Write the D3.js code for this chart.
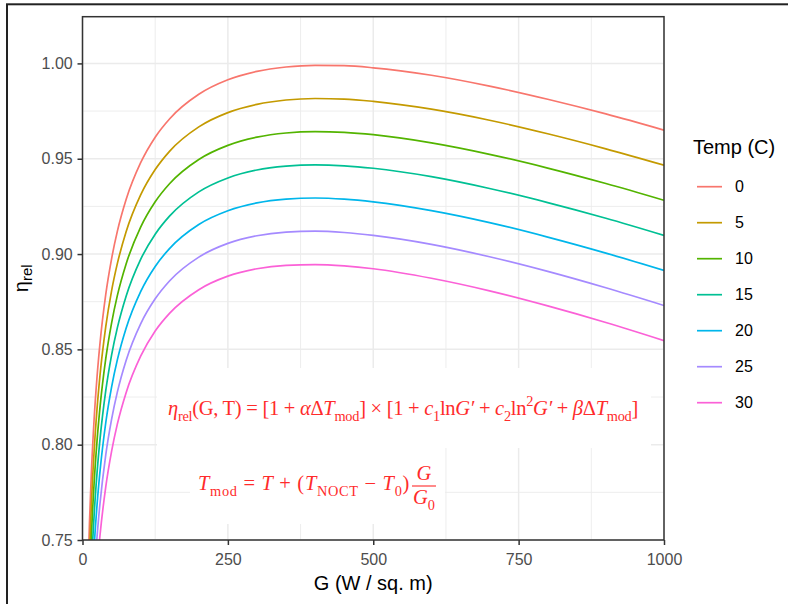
<!DOCTYPE html>
<html><head><meta charset="utf-8">
<script src="https://cdn.jsdelivr.net/npm/d3@7"></script>
<style>body{margin:0;background:#fff} svg{display:block} text{white-space:pre}</style>
</head><body>
<svg id="c" width="788" height="604"></svg>
<script>
// ---------- data ----------
const G = [10,12,15,20,25,30,40,50,60,75,100,125,150,200,250,300,350,400,450,500,600,700,800,900,1000];
const temps = ["0","5","10","15","20","25","30"];
const eta_T0  = [0.7387,0.7592,0.7836,0.8135,0.8356,0.8529,0.8788,0.8975,0.9120,0.9286,0.9479,0.9613,0.9710,0.9838,0.9914,0.9958,0.9981,0.9990,0.9988,0.9977,0.9938,0.9881,0.9812,0.9735,0.9650];
const eta_T5  = [0.7219,0.7424,0.7668,0.7967,0.8188,0.8361,0.8619,0.8807,0.8951,0.9117,0.9310,0.9443,0.9540,0.9667,0.9742,0.9785,0.9808,0.9816,0.9813,0.9801,0.9760,0.9702,0.9631,0.9552,0.9466];
const eta_T10 = [0.7052,0.7257,0.7500,0.7799,0.8020,0.8193,0.8451,0.8638,0.8783,0.8948,0.9141,0.9274,0.9370,0.9496,0.9570,0.9613,0.9635,0.9642,0.9638,0.9626,0.9583,0.9523,0.9451,0.9370,0.9282];
const eta_T15 = [0.6884,0.7089,0.7333,0.7632,0.7852,0.8025,0.8283,0.8470,0.8614,0.8779,0.8972,0.9104,0.9200,0.9326,0.9399,0.9441,0.9461,0.9468,0.9463,0.9450,0.9406,0.9344,0.9270,0.9188,0.9098];
const eta_T20 = [0.6716,0.6921,0.7165,0.7464,0.7684,0.7857,0.8115,0.8302,0.8446,0.8611,0.8803,0.8935,0.9030,0.9155,0.9227,0.9268,0.9288,0.9294,0.9288,0.9274,0.9228,0.9165,0.9089,0.9005,0.8914];
const eta_T25 = [0.6549,0.6754,0.6997,0.7296,0.7517,0.7689,0.7947,0.8133,0.8277,0.8442,0.8634,0.8765,0.8860,0.8984,0.9056,0.9096,0.9115,0.9120,0.9113,0.9098,0.9051,0.8986,0.8909,0.8823,0.8730];
const eta_T30 = [0.6381,0.6586,0.6829,0.7128,0.7349,0.7521,0.7779,0.7965,0.8109,0.8273,0.8464,0.8596,0.8690,0.8813,0.8884,0.8923,0.8941,0.8945,0.8938,0.8923,0.8873,0.8807,0.8728,0.8641,0.8546];
const seriesValues = [eta_T0, eta_T5, eta_T10, eta_T15, eta_T20, eta_T25, eta_T30];
const xTicks = [0,250,500,750,1000];
const xTickLabels = ["0","250","500","750","1000"];
const xMinor = [125,375,625,875];
const yTicks = [0.75,0.80,0.85,0.90,0.95,1.00];
const yTickLabels = ["0.75","0.80","0.85","0.90","0.95","1.00"];
const yMinor = [0.775,0.825,0.875,0.925,0.975];
const colors = ["#F8766D","#C49A00","#53B400","#00C094","#00B6EB","#A58AFF","#FB61D7"];

// ---------- layout ----------
const svg = d3.select("#c");
const L = 82.5, R = 664, T = 16.7, B = 540;
const x = d3.scaleLinear().domain([0,1000]).range([L,R]);
const y = d3.scaleLinear().domain([0.75,1.0245]).range([B,T]);
const sans = "'Liberation Sans', Arial, Helvetica, sans-serif";
const serif = "'Liberation Serif', 'Times New Roman', serif";

// outer frame
svg.append("rect").attr("x",7).attr("y",4.3).attr("width",900).attr("height",900)
  .attr("fill","none").attr("stroke","#222").attr("stroke-width",2);

// panel background + grid
svg.append("rect").attr("x",L).attr("y",T).attr("width",R-L).attr("height",B-T).attr("fill","#fff");
const grid = svg.append("g");
grid.selectAll(".xmin").data(xMinor).join("line").attr("x1",d=>x(d)).attr("x2",d=>x(d)).attr("y1",T).attr("y2",B)
  .attr("stroke","#EBEBEB").attr("stroke-width",0.9);
grid.selectAll(".ymin").data(yMinor).join("line").attr("y1",d=>y(d)).attr("y2",d=>y(d)).attr("x1",L).attr("x2",R)
  .attr("stroke","#EBEBEB").attr("stroke-width",0.9);
grid.selectAll(".xmaj").data(xTicks).join("line").attr("x1",d=>x(d)).attr("x2",d=>x(d)).attr("y1",T).attr("y2",B)
  .attr("stroke","#EBEBEB").attr("stroke-width",1.5);
grid.selectAll(".ymaj").data(yTicks).join("line").attr("y1",d=>y(d)).attr("y2",d=>y(d)).attr("x1",L).attr("x2",R)
  .attr("stroke","#EBEBEB").attr("stroke-width",1.5);

// lines
svg.append("clipPath").attr("id","clip").append("rect").attr("x",L).attr("y",T).attr("width",R-L).attr("height",B-T);
const line = d3.line().x(d=>x(d[0])).y(d=>y(d[1])).curve(d3.curveMonotoneX);
const gl = svg.append("g").attr("clip-path","url(#clip)");
seriesValues.forEach((vals,i)=>{
  gl.append("path").datum(G.map((g,j)=>[g,vals[j]])).attr("d",line)
    .attr("fill","none").attr("stroke",colors[i]).attr("stroke-width",1.7);
});

// formula annotations (white boxes + red text)
const red = "#FF2B2B";
svg.append("rect").attr("x",157).attr("y",368).attr("width",494).attr("height",80).attr("fill","#fff");
svg.append("rect").attr("x",190).attr("y",448).attr("width",255).attr("height",76).attr("fill","#fff");

function rich(parent, x0, y0, segs, fs){
  const t = parent.append("text").attr("x",x0).attr("y",y0).attr("font-family",serif)
    .attr("font-size",fs).attr("fill",red);
  let cur = 0;
  segs.forEach(([s,k])=>{
    let shift = 0, size = fs, it = false;
    if(k==="it") it = true;
    if(k==="sub"){ shift = 0.28*fs; size = 0.7*fs; }
    if(k==="sup"){ shift = -0.42*fs; size = 0.7*fs; }
    t.append("tspan").text(s).attr("dy",shift-cur).attr("font-size",size)
      .attr("font-style",it?"italic":"normal");
    cur = shift;
  });
  return t;
}
function fitWidth(t, target){
  const w = t.node().getBBox().width;
  const n = t.text().length;
  t.attr("letter-spacing", (target-w)/n);
}
const fs = 20.5;
const f1 = [["η","it"],["rel","sub"],["(G, T) = [1 + ","rm"],["α","it"],["Δ","rm"],["T","it"],["mod","sub"],
  ["] × [1 + ","rm"],["c","it"],["1","sub"],["ln","rm"],["G′","it"],[" + ","rm"],["c","it"],["2","sub"],
  ["ln","rm"],["2","sup"],["G′","it"],[" + ","rm"],["β","it"],["Δ","rm"],["T","it"],["mod","sub"],["]","rm"]];
const t1 = rich(svg, 168, 415, f1, fs);
fitWidth(t1, 470);
const f2 = [["T","it"],["mod","sub"],[" = ","rm"],["T","it"],[" + (","rm"],["T","it"],["NOCT","sub"],
  [" − ","rm"],["T","it"],["0","sub"],[")","rm"]];
const t2 = rich(svg, 198, 490, f2, fs);
fitWidth(t2, 212);
const e2 = 198 + 212 + 2;
const den = rich(svg, e2+1, 504, [["G","it"],["0","sub"]], fs);
const dw = den.node().getBBox().width;
rich(svg, e2+1+dw/2, 480, [["G","it"]], fs).attr("text-anchor","middle");
svg.append("line").attr("x1",e2).attr("x2",e2+dw+2).attr("y1",486).attr("y2",486).attr("stroke",red).attr("stroke-width",1.1);

// axes
const ax = svg.append("g").attr("transform",`translate(0,${B})`)
  .call(d3.axisBottom(x).tickValues(xTicks).tickFormat((d,i)=>xTickLabels[i]).tickSize(5).tickPadding(8.5));
const ay = svg.append("g").attr("transform",`translate(${L},0)`)
  .call(d3.axisLeft(y).tickValues(yTicks).tickFormat((d,i)=>yTickLabels[i]).tickSize(5).tickPadding(4.8));
[ax,ay].forEach(a=>{
  a.select(".domain").remove();
  a.selectAll(".tick line").attr("stroke","#333").attr("stroke-width",1.5);
  a.selectAll(".tick text").attr("fill","#4D4D4D").attr("font-size",16).attr("font-family",sans);
});

// panel border
svg.append("rect").attr("x",L).attr("y",T).attr("width",R-L).attr("height",B-T)
  .attr("fill","none").attr("stroke","#333").attr("stroke-width",1.5);

// axis titles
svg.append("text").attr("x",(L+R)/2).attr("y",590).attr("text-anchor","middle")
  .attr("font-family",sans).attr("font-size",20).attr("fill","#000").text("G (W / sq. m)");
const yt = svg.append("text").attr("transform",`translate(28,${(T+B)/2}) rotate(-90)`).attr("text-anchor","middle")
  .attr("font-family",sans).attr("font-size",20).attr("fill","#000");
yt.append("tspan").text("η");
yt.append("tspan").text("rel").attr("font-size",15).attr("dy",4);

// legend
svg.append("text").attr("x",693).attr("y",154).attr("font-family",sans).attr("font-size",20).attr("fill","#000").text("Temp (C)");
const lg = svg.append("g");
temps.forEach((t,i)=>{
  const cy = 186.7 + i*36;
  lg.append("line").attr("x1",697).attr("x2",722).attr("y1",cy).attr("y2",cy).attr("stroke",colors[i]).attr("stroke-width",1.7);
  lg.append("text").attr("x",735).attr("y",cy+5.7).attr("font-family",sans).attr("font-size",16).attr("fill","#000").text(t);
});
</script>
</body></html>
